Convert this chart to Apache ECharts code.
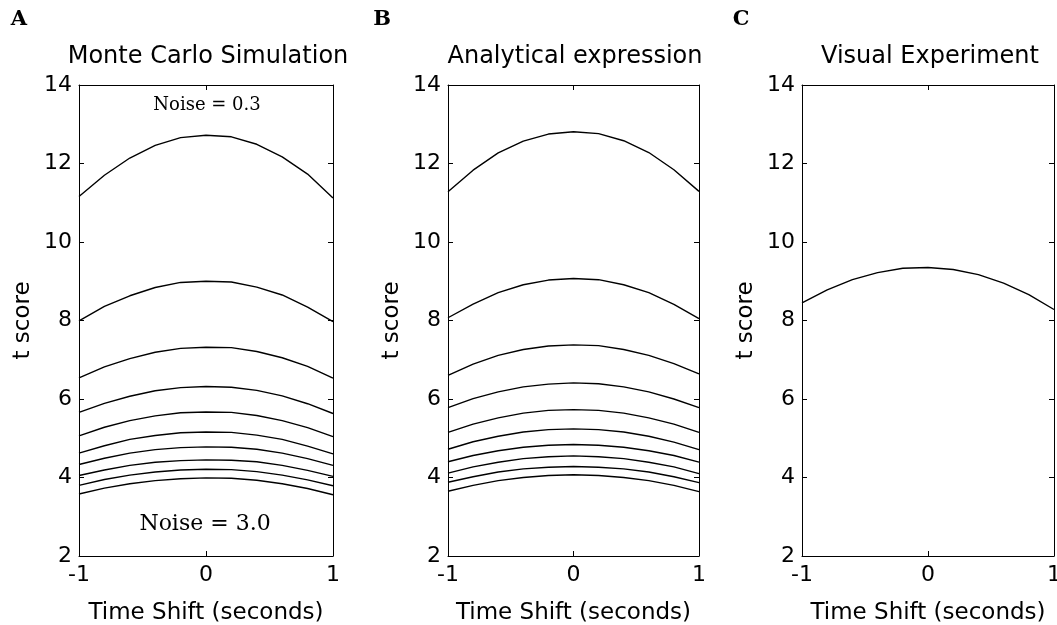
<!DOCTYPE html>
<html>
<head>
    <meta charset="utf-8">
    <title>t score vs time shift</title>
    <style>
        body { margin: 0; background: #fff; }
    </style>
</head>
<body>
<div id="main" style="width: 1057px;height:625px;"></div>
<script type="text/javascript" src="https://cdn.jsdelivr.net/npm/echarts@6/dist/echarts.min.js"></script>
<script>
    // time shift samples (seconds)
    var timeShift = [-1, -0.8, -0.6, -0.4, -0.2, 0, 0.2, 0.4, 0.6, 0.8, 1];
    var yTicks = [2, 4, 6, 8, 10, 12, 14];
    var xTicks = [-1, 0, 1];

    // A: Monte Carlo simulation, noise 0.3 ... 3.0
    var monteCarlo = [
        [11.16, 11.70, 12.14, 12.46, 12.66, 12.72, 12.68, 12.49, 12.17, 11.73, 11.12],
        [7.99, 8.36, 8.63, 8.84, 8.97, 9.00, 8.98, 8.85, 8.65, 8.34, 7.97],
        [6.54, 6.82, 7.03, 7.19, 7.29, 7.32, 7.31, 7.21, 7.05, 6.83, 6.53],
        [5.66, 5.89, 6.07, 6.21, 6.29, 6.32, 6.30, 6.22, 6.08, 5.88, 5.63],
        [5.06, 5.28, 5.45, 5.57, 5.65, 5.67, 5.66, 5.58, 5.45, 5.27, 5.04],
        [4.62, 4.81, 4.97, 5.07, 5.14, 5.16, 5.15, 5.08, 4.97, 4.80, 4.60],
        [4.33, 4.49, 4.62, 4.71, 4.76, 4.78, 4.77, 4.72, 4.62, 4.48, 4.31],
        [4.05, 4.19, 4.31, 4.39, 4.43, 4.45, 4.44, 4.40, 4.31, 4.18, 4.03],
        [3.80, 3.95, 4.06, 4.14, 4.19, 4.21, 4.20, 4.15, 4.06, 3.94, 3.79],
        [3.58, 3.73, 3.84, 3.92, 3.97, 3.99, 3.98, 3.93, 3.84, 3.72, 3.56]
    ];

    // B: analytical expression
    var analytical = [
        [11.28, 11.83, 12.27, 12.57, 12.75, 12.81, 12.76, 12.58, 12.28, 11.84, 11.29],
        [8.07, 8.42, 8.71, 8.91, 9.03, 9.07, 9.04, 8.91, 8.71, 8.41, 8.05],
        [6.60, 6.89, 7.11, 7.26, 7.35, 7.38, 7.36, 7.26, 7.11, 6.90, 6.64],
        [5.78, 6.01, 6.18, 6.31, 6.38, 6.41, 6.39, 6.31, 6.18, 6.00, 5.78],
        [5.15, 5.36, 5.52, 5.64, 5.71, 5.73, 5.71, 5.64, 5.52, 5.36, 5.15],
        [4.72, 4.91, 5.05, 5.16, 5.22, 5.24, 5.22, 5.16, 5.05, 4.90, 4.71],
        [4.40, 4.56, 4.68, 4.77, 4.82, 4.84, 4.82, 4.77, 4.68, 4.56, 4.39],
        [4.11, 4.27, 4.39, 4.48, 4.53, 4.55, 4.53, 4.48, 4.39, 4.27, 4.10],
        [3.88, 4.02, 4.14, 4.22, 4.26, 4.28, 4.26, 4.22, 4.14, 4.02, 3.87],
        [3.65, 3.80, 3.92, 4.00, 4.05, 4.07, 4.05, 4.00, 3.92, 3.80, 3.64]
    ];

    // C: visual experiment
    var visual = [8.45, 8.78, 9.04, 9.22, 9.33, 9.35, 9.30, 9.17, 8.95, 8.66, 8.28];

    var panelTitles = ['Monte Carlo Simulation', 'Analytical expression', 'Visual Experiment'];
    var panelLetters = ['A', 'B', 'C'];

    var myChart = echarts.init(document.getElementById('main'));

    var sans = 'DejaVu Sans';
    // outerBoundsMode none: keep the plot boxes where they are even if labels hang over the edge
    var grids = [
        {left: 79, top: 85, width: 254, height: 471, outerBoundsMode: 'none'},
        {left: 448, top: 85, width: 251, height: 471, outerBoundsMode: 'none'},
        {left: 802, top: 85, width: 252, height: 471, outerBoundsMode: 'none'}
    ];
    var letterX = [19, 382, 741];
    var titleX = [203, 570, 925];

    var xAxes = [], yAxes = [], series = [], titles = [], graphics = [];

    grids.forEach(function (g, i) {
        var common = {
            gridIndex: i,
            type: 'value',
            splitLine: {show: false},
            axisLine: {show: true, onZero: false, lineStyle: {color: '#000', width: 1}},
            axisTick: {show: true, inside: true, length: 5, lineStyle: {color: '#000'}}
        };
        // bottom + top
        xAxes.push(Object.assign({}, common, {
            position: 'bottom', min: xTicks[0], max: xTicks[xTicks.length - 1], interval: 1,
            name: 'Time Shift (seconds)', nameLocation: 'middle', nameGap: 46,
            nameTextStyle: {fontFamily: sans, fontSize: 23, color: '#000'},
            axisLabel: {fontFamily: sans, fontSize: 22, color: '#000', margin: 8}
        }));
        xAxes.push(Object.assign({}, common, {
            position: 'top', min: xTicks[0], max: xTicks[xTicks.length - 1], interval: 1,
            axisLabel: {show: false}
        }));
        // left + right
        yAxes.push(Object.assign({}, common, {
            position: 'left', min: yTicks[0], max: yTicks[yTicks.length - 1], interval: 2,
            name: 't score', nameLocation: 'middle', nameGap: 44,
            nameTextStyle: {fontFamily: sans, fontSize: 23, color: '#000'},
            axisLabel: {fontFamily: sans, fontSize: 22, color: '#000', margin: 7}
        }));
        yAxes.push(Object.assign({}, common, {
            position: 'right', min: yTicks[0], max: yTicks[yTicks.length - 1], interval: 2,
            axisLabel: {show: false}
        }));

        titles.push({
            text: panelTitles[i],
            left: titleX[i],
            top: 40,
            textAlign: 'center',
            textStyle: {fontFamily: sans, fontSize: 24, fontWeight: 'normal', color: '#000'}
        });
        graphics.push({
            type: 'text', x: letterX[i], y: 20,
            style: {text: panelLetters[i], font: 'bold 21px "DejaVu Serif"', fill: '#000',
                textAlign: 'center', textVerticalAlign: 'middle'}
        });
    });

    function addLines(list, gi) {
        list.forEach(function (vals) {
            series.push({
                type: 'line',
                xAxisIndex: gi * 2,
                yAxisIndex: gi * 2,
                data: timeShift.map(function (t, k) { return [t, vals[k]]; }),
                showSymbol: false,
                silent: true,
                lineStyle: {color: '#000', width: 1.4}
            });
        });
    }

    addLines(monteCarlo, 0);
    addLines(analytical, 1);
    addLines([visual], 2);

    graphics.push({
        type: 'text', x: 207, y: 105,
        style: {text: 'Noise = 0.3', font: '18px "DejaVu Serif"', fill: '#000',
            textAlign: 'center', textVerticalAlign: 'middle'}
    });
    graphics.push({
        type: 'text', x: 205, y: 524,
        style: {text: 'Noise = 3.0', font: '22px "DejaVu Serif"', fill: '#000',
            textAlign: 'center', textVerticalAlign: 'middle'}
    });

    var option = {
        animation: false,
        backgroundColor: '#fff',
        title: titles,
        grid: grids,
        xAxis: xAxes,
        yAxis: yAxes,
        series: series,
        graphic: graphics
    };
    myChart.setOption(option);
</script>
</body>
</html>
